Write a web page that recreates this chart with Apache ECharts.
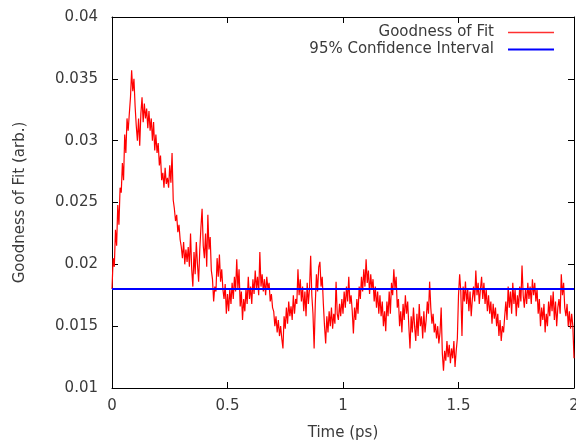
<!DOCTYPE html>
<html>
<head>
<meta charset="utf-8">
<script src="https://cdn.jsdelivr.net/npm/echarts@6/dist/echarts.min.js"></script>
<style>html,body{margin:0;padding:0;background:#fff}#c{width:576px;height:444px}</style>
</head>
<body>
<div id="c"></div>
<script>
// Sampling grid of the time axis (ps)
const timeStart = 0;
const timeStep = 0.005;
// Goodness of fit values, one per sample
const goodness = [
  0.0180,0.0205,0.0198,0.0228,0.0215,0.0248,0.0232,0.0262,0.0258,0.0282,0.0268,0.0305,0.0290,0.0318,0.0308,0.0322,0.0335,0.0357,0.0340,0.0350,
  0.0328,0.0312,0.0300,0.0318,0.0296,0.0322,0.0335,0.0315,0.0330,0.0318,0.0326,0.0310,0.0324,0.0308,0.0318,0.0300,0.0315,0.0292,0.0305,0.0290,
  0.0298,0.0280,0.0288,0.0268,0.0274,0.0262,0.0278,0.0265,0.0270,0.0262,0.0280,0.0266,0.0290,0.0252,0.0245,0.0235,0.0240,0.0226,0.0232,0.0220,
  0.0214,0.0205,0.0218,0.0200,0.0212,0.0202,0.0214,0.0198,0.0225,0.0196,0.0182,0.0210,0.0192,0.0218,0.0200,0.0186,0.0212,0.0230,0.0245,0.0215,
  0.0205,0.0225,0.0198,0.0240,0.0212,0.0222,0.0195,0.0188,0.0170,0.0182,0.0178,0.0205,0.0190,0.0208,0.0186,0.0196,0.0180,0.0172,0.0184,0.0160,
  0.0176,0.0162,0.0180,0.0168,0.0185,0.0172,0.0190,0.0178,0.0204,0.0180,0.0196,0.0166,0.0178,0.0155,0.0172,0.0162,0.0180,0.0168,0.0190,0.0172,
  0.0182,0.0168,0.0188,0.0176,0.0195,0.0180,0.0190,0.0175,0.0210,0.0182,0.0192,0.0178,0.0188,0.0175,0.0190,0.0180,0.0185,0.0170,0.0176,0.0165,
  0.0162,0.0150,0.0158,0.0145,0.0155,0.0142,0.0150,0.0140,0.0132,0.0158,0.0148,0.0165,0.0152,0.0170,0.0158,0.0166,0.0155,0.0175,0.0160,0.0172,
  0.0168,0.0196,0.0175,0.0188,0.0170,0.0182,0.0162,0.0178,0.0158,0.0185,0.0168,0.0180,0.0207,0.0175,0.0160,0.0132,0.0168,0.0192,0.0178,0.0198,
  0.0202,0.0182,0.0190,0.0168,0.0150,0.0136,0.0158,0.0145,0.0162,0.0150,0.0165,0.0148,0.0160,0.0152,0.0186,0.0160,0.0155,0.0168,0.0158,0.0172,
  0.0160,0.0178,0.0165,0.0182,0.0170,0.0190,0.0168,0.0175,0.0162,0.0144,0.0165,0.0155,0.0172,0.0160,0.0182,0.0172,0.0190,0.0178,0.0196,0.0182,
  0.0204,0.0185,0.0195,0.0176,0.0192,0.0180,0.0188,0.0170,0.0182,0.0165,0.0178,0.0160,0.0175,0.0158,0.0170,0.0150,0.0162,0.0146,0.0170,0.0158,
  0.0178,0.0160,0.0185,0.0175,0.0196,0.0180,0.0190,0.0165,0.0172,0.0150,0.0162,0.0145,0.0168,0.0155,0.0175,0.0160,0.0170,0.0150,0.0132,0.0158,
  0.0145,0.0165,0.0150,0.0138,0.0160,0.0142,0.0168,0.0150,0.0158,0.0140,0.0162,0.0145,0.0155,0.0170,0.0160,0.0186,0.0165,0.0152,0.0160,0.0145,
  0.0152,0.0140,0.0150,0.0136,0.0145,0.0165,0.0128,0.0114,0.0130,0.0122,0.0138,0.0125,0.0135,0.0120,0.0132,0.0124,0.0138,0.0117,0.0130,0.0140,
  0.0175,0.0192,0.0178,0.0142,0.0182,0.0170,0.0186,0.0168,0.0180,0.0162,0.0178,0.0158,0.0172,0.0182,0.0170,0.0195,0.0175,0.0185,0.0168,0.0180,
  0.0190,0.0172,0.0185,0.0168,0.0180,0.0162,0.0175,0.0160,0.0170,0.0152,0.0168,0.0156,0.0165,0.0150,0.0160,0.0142,0.0155,0.0138,0.0150,0.0145,
  0.0158,0.0170,0.0155,0.0182,0.0165,0.0178,0.0160,0.0185,0.0168,0.0180,0.0158,0.0175,0.0165,0.0182,0.0170,0.0199,0.0175,0.0165,0.0180,0.0168,
  0.0185,0.0172,0.0182,0.0168,0.0188,0.0175,0.0185,0.0170,0.0180,0.0160,0.0172,0.0150,0.0165,0.0155,0.0168,0.0145,0.0160,0.0150,0.0170,0.0158,
  0.0175,0.0162,0.0178,0.0155,0.0170,0.0150,0.0165,0.0172,0.0160,0.0192,0.0175,0.0185,0.0165,0.0158,0.0168,0.0150,0.0162,0.0148,0.0160,0.0150,
  0.0124
];
// 95% confidence interval level and its time span
const confidenceLevel = 0.018;
const confidenceSpan = [0, 2];
// Axis settings
const xRange = [0, 2], xStep = 0.5;
const yRange = [0.01, 0.04], yStep = 0.005;
const xTitle = 'Time (ps)';
const yTitle = 'Goodness of Fit (arb.)';
const seriesNames = ['Goodness of Fit', '95% Confidence Interval'];

const gofData = goodness.map((v, i) => [+(timeStart + i * timeStep).toFixed(3), v]);
const ciData = confidenceSpan.map(t => [t, confidenceLevel]);

const FONT = 'DejaVu Sans';
const TXT = '#3a3a3a';
const labelStyle = {color: TXT, fontFamily: FONT, fontSize: 15};

function fmt(v) { return String(+v.toFixed(4)); }

const chart = echarts.init(document.getElementById('c'), null, {renderer: 'canvas'});
chart.setOption({
  animation: false,
  backgroundColor: '#fff',
  grid: {left: 112, right: 2, top: 17, bottom: 56, containLabel: false, outerBoundsMode: 'none'},
  legend: [
    {
      data: [seriesNames[0]], right: 17, top: 20, orient: 'vertical', align: 'right',
      icon: 'rect', itemWidth: 46, itemHeight: 1.5, itemGap: 4,
      textStyle: Object.assign({}, labelStyle, {padding: [0, 9, 0, 0]}),
      selectedMode: false
    },
    {
      data: [seriesNames[1]], right: 17, top: 37, orient: 'vertical', align: 'right',
      icon: 'rect', itemWidth: 46, itemHeight: 2, itemGap: 4,
      textStyle: Object.assign({}, labelStyle, {padding: [0, 9, 0, 0]}),
      selectedMode: false
    }
  ],
  xAxis: [
    {
      type: 'value', min: xRange[0], max: xRange[1], interval: xStep, position: 'bottom',
      name: xTitle, nameLocation: 'middle', nameGap: 38,
      nameTextStyle: labelStyle,
      axisLine: {show: true, onZero: false, lineStyle: {color: '#000', width: 1}},
      axisTick: {show: true, inside: true, length: 6, lineStyle: {color: '#000'}},
      axisLabel: Object.assign({margin: 11, formatter: fmt}, labelStyle),
      splitLine: {show: false}
    },
    {
      type: 'value', min: xRange[0], max: xRange[1], interval: xStep, position: 'top',
      axisLine: {show: true, onZero: false, lineStyle: {color: '#000', width: 1}},
      axisTick: {show: true, inside: true, length: 6, lineStyle: {color: '#000'}},
      axisLabel: {show: false}, splitLine: {show: false}
    }
  ],
  yAxis: [
    {
      type: 'value', min: yRange[0], max: yRange[1], interval: yStep, position: 'left',
      name: yTitle, nameLocation: 'middle', nameGap: 84, nameRotate: 90,
      nameTextStyle: labelStyle,
      axisLine: {show: true, onZero: false, lineStyle: {color: '#000', width: 1}},
      axisTick: {show: true, inside: true, length: 6, lineStyle: {color: '#000'}},
      axisLabel: Object.assign({margin: 14, formatter: fmt}, labelStyle),
      splitLine: {show: false}
    },
    {
      type: 'value', min: yRange[0], max: yRange[1], interval: yStep, position: 'right',
      axisLine: {show: true, onZero: false, lineStyle: {color: '#000', width: 1}},
      axisTick: {show: true, inside: true, length: 6, lineStyle: {color: '#000'}},
      axisLabel: {show: false}, splitLine: {show: false}
    }
  ],
  series: [
    {
      name: seriesNames[0], type: 'line', data: gofData, xAxisIndex: 0, yAxisIndex: 0,
      showSymbol: false, symbol: 'none', sampling: null,
      lineStyle: {color: '#ff0000', width: 1.2}, itemStyle: {color: '#ff3030'}, z: 2
    },
    {
      name: seriesNames[1], type: 'line', data: ciData, xAxisIndex: 0, yAxisIndex: 0,
      showSymbol: false, symbol: 'none',
      lineStyle: {color: '#0000ff', width: 2}, itemStyle: {color: '#0000ff'}, z: 3
    }
  ]
});
</script>
</body>
</html>
